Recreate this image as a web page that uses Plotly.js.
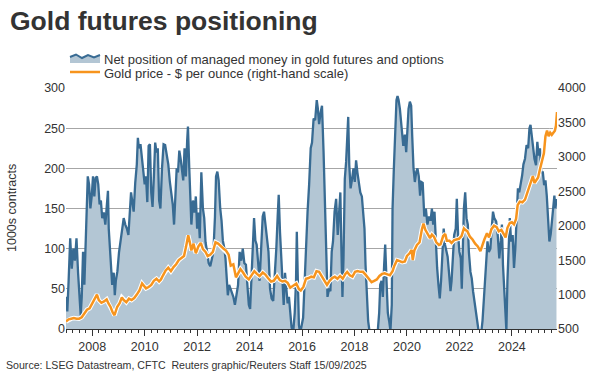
<!DOCTYPE html>
<html>
<head>
<meta charset="utf-8">
<script src="https://cdn.plot.ly/plotly-3.0.1.min.js"></script>
<style>html,body{margin:0;padding:0;background:#fff;}#chart{width:600px;height:376px;}</style>
</head>
<body>
<div id="chart"></div>
<script>
// Net position of managed money (thousands of contracts), decimal years
var netYears = [2007.00,2007.05,2007.10,2007.16,2007.22,2007.28,2007.34,2007.40,2007.46,2007.52,2007.56,2007.60,2007.65,2007.70,2007.75,2007.78,2007.83,2007.88,2007.93,2007.98,
2008.03,2008.08,2008.13,2008.18,2008.23,2008.28,2008.33,2008.38,2008.44,2008.50,2008.55,2008.60,2008.63,2008.68,2008.72,2008.76,2008.82,2008.86,2008.90,2008.96,
2009.02,2009.08,2009.15,2009.20,2009.26,2009.32,2009.38,2009.44,2009.48,2009.53,2009.58,2009.64,2009.70,2009.74,2009.78,2009.84,2009.90,2009.95,
2010.00,2010.05,2010.10,2010.15,2010.20,2010.25,2010.30,2010.35,2010.40,2010.45,2010.50,2010.55,2010.60,2010.66,2010.72,2010.78,2010.84,2010.90,2010.96,
2011.02,2011.07,2011.12,2011.17,2011.22,2011.27,2011.32,2011.37,2011.42,2011.47,2011.52,2011.57,2011.62,2011.65,2011.70,2011.74,2011.78,2011.84,2011.90,2011.95,
2012.00,2012.05,2012.10,2012.16,2012.22,2012.27,2012.32,2012.38,2012.44,2012.50,2012.56,2012.62,2012.68,2012.72,2012.77,2012.82,2012.88,2012.93,2012.98,
2013.04,2013.08,2013.12,2013.17,2013.22,2013.27,2013.32,2013.38,2013.44,2013.50,2013.56,2013.62,2013.68,2013.74,2013.80,2013.86,2013.92,2013.97,
2014.02,2014.07,2014.12,2014.17,2014.22,2014.27,2014.32,2014.38,2014.44,2014.50,2014.55,2014.60,2014.66,2014.72,2014.78,2014.84,2014.90,2014.96,
2015.02,2015.07,2015.11,2015.16,2015.21,2015.26,2015.30,2015.35,2015.40,2015.45,2015.50,2015.55,2015.60,2015.66,2015.72,2015.77,2015.80,2015.84,2015.88,2015.93,2015.98,
2016.04,2016.10,2016.16,2016.21,2016.27,2016.33,2016.38,2016.44,2016.50,2016.56,2016.60,2016.65,2016.71,2016.76,2016.82,2016.87,2016.92,2016.97,
2017.03,2017.08,2017.13,2017.18,2017.24,2017.30,2017.36,2017.42,2017.46,2017.50,2017.54,2017.58,2017.63,2017.68,2017.73,2017.76,2017.80,2017.85,2017.90,2017.96,
2018.01,2018.06,2018.11,2018.16,2018.22,2018.28,2018.33,2018.38,2018.42,2018.47,2018.52,2018.58,2018.64,2018.70,2018.76,2018.82,2018.88,2018.94,2018.98,
2019.03,2019.08,2019.13,2019.17,2019.22,2019.27,2019.32,2019.37,2019.42,2019.45,2019.50,2019.55,2019.60,2019.64,2019.68,2019.73,2019.78,2019.82,2019.86,2019.92,2019.97,
2020.02,2020.06,2020.11,2020.16,2020.20,2020.25,2020.30,2020.35,2020.40,2020.45,2020.50,2020.55,2020.60,2020.66,2020.72,2020.78,2020.84,2020.90,2020.95,
2021.00,2021.05,2021.10,2021.15,2021.20,2021.25,2021.30,2021.35,2021.40,2021.45,2021.50,2021.55,2021.60,2021.66,2021.70,2021.75,2021.80,2021.86,2021.90,2021.95,
2022.00,2022.05,2022.09,2022.13,2022.17,2022.22,2022.27,2022.32,2022.36,2022.42,2022.47,2022.52,2022.57,2022.62,2022.67,2022.72,2022.78,2022.84,2022.88,2022.92,2022.97,
2023.02,2023.07,2023.12,2023.18,2023.23,2023.28,2023.33,2023.40,2023.46,2023.52,2023.58,2023.62,2023.66,2023.70,2023.75,2023.79,2023.83,2023.87,2023.92,2023.97,
2024.03,2024.08,2024.13,2024.18,2024.23,2024.28,2024.33,2024.39,2024.44,2024.50,2024.56,2024.62,2024.67,2024.71,2024.76,2024.80,2024.86,2024.92,2024.97,
2025.02,2025.07,2025.12,2025.18,2025.23,2025.28,2025.33,2025.38,2025.43,2025.48,2025.52,2025.57,2025.62,2025.66,2025.70];
var netValues = [40,22,60,113,75,100,85,113,70,30,17,40,96,55,110,150,190,180,150,165,
190,165,188,190,180,155,160,138,145,130,150,172,125,100,76,55,70,42,60,72,
95,108,125,138,130,125,117,150,170,158,146,182,205,238,225,230,210,200,
180,190,158,228,230,170,152,190,232,220,225,160,150,200,230,229,215,205,183,
170,155,130,175,200,195,222,212,200,185,225,190,235,252,200,158,130,160,145,165,
125,145,113,195,150,138,108,96,82,78,88,96,140,190,196,185,150,135,110,
100,88,60,42,55,50,46,40,30,45,55,96,85,100,82,80,46,30,
25,60,100,138,110,105,85,60,100,140,146,130,110,96,50,38,35,65,
101,140,167,120,90,45,30,70,50,32,40,14,2,-5,20,60,121,60,5,-5,2,
14,60,120,146,180,225,232,262,260,285,275,255,270,278,220,146,113,40,
50,47,96,109,146,162,117,150,170,100,40,88,187,208,245,264,204,175,185,200,
183,210,195,183,170,165,138,125,80,40,10,-5,-15,-20,-15,-10,-5,20,55,
60,40,80,105,60,20,10,-2,30,150,200,240,285,290,285,274,255,240,228,242,220,
250,274,283,278,240,200,183,195,200,190,166,183,182,140,150,130,140,135,150,
130,146,100,76,55,38,60,88,125,105,96,90,71,47,60,96,117,125,162,117,
96,88,50,100,150,170,138,130,96,71,63,47,34,25,14,0,-5,-2,10,34,63,
96,109,96,100,125,146,138,134,117,88,110,130,80,47,20,-2,60,109,138,109,
117,76,100,138,175,170,179,191,205,212,229,225,250,254,240,229,212,204,233,
216,225,195,195,179,185,166,130,109,118,130,146,166,150,162];

// Gold price, $ per ounce, decimal years
var goldYears = [2007.00,2007.10,2007.20,2007.30,2007.40,2007.50,2007.60,2007.70,2007.80,2007.90,
2008.00,2008.10,2008.18,2008.25,2008.35,2008.45,2008.55,2008.62,2008.70,2008.78,2008.85,2008.95,
2009.05,2009.13,2009.20,2009.30,2009.40,2009.50,2009.60,2009.70,2009.80,2009.90,2009.97,
2010.05,2010.15,2010.25,2010.35,2010.45,2010.55,2010.62,2010.70,2010.80,2010.90,
2011.00,2011.10,2011.20,2011.30,2011.40,2011.50,2011.58,2011.66,2011.72,2011.78,2011.86,2011.95,
2012.05,2012.14,2012.22,2012.32,2012.40,2012.50,2012.60,2012.70,2012.80,2012.90,
2013.00,2013.10,2013.20,2013.28,2013.38,2013.48,2013.55,2013.65,2013.75,2013.85,2013.97,
2014.08,2014.18,2014.28,2014.38,2014.50,2014.60,2014.70,2014.82,2014.92,
2015.05,2015.15,2015.25,2015.35,2015.45,2015.55,2015.65,2015.78,2015.88,2015.95,
2016.05,2016.15,2016.25,2016.35,2016.45,2016.55,2016.65,2016.75,2016.85,2016.95,
2017.05,2017.15,2017.25,2017.35,2017.45,2017.55,2017.65,2017.72,2017.82,2017.92,
2018.02,2018.12,2018.22,2018.32,2018.42,2018.50,2018.58,2018.65,2018.75,2018.85,2018.95,
2019.05,2019.15,2019.25,2019.35,2019.45,2019.52,2019.62,2019.72,2019.82,2019.92,
2020.00,2020.10,2020.18,2020.22,2020.28,2020.38,2020.48,2020.57,2020.63,2020.70,2020.80,2020.88,2020.95,
2021.03,2021.12,2021.22,2021.28,2021.38,2021.46,2021.52,2021.62,2021.70,2021.80,2021.90,2021.98,
2022.08,2022.17,2022.22,2022.30,2022.40,2022.50,2022.60,2022.70,2022.80,2022.87,2022.95,
2023.05,2023.13,2023.22,2023.32,2023.42,2023.50,2023.60,2023.70,2023.76,2023.83,2023.92,
2024.00,2024.08,2024.16,2024.22,2024.30,2024.40,2024.50,2024.58,2024.66,2024.74,2024.80,2024.86,2024.92,
2025.00,2025.07,2025.14,2025.22,2025.28,2025.34,2025.40,2025.46,2025.52,2025.58,2025.64,2025.68,2025.72];
var goldValues = [610,640,650,660,650,650,670,720,780,800,
870,950,1000,920,880,900,930,870,820,740,700,820,
880,960,920,890,940,920,950,1000,1060,1160,1120,
1090,1110,1140,1200,1230,1190,1220,1280,1350,1390,
1340,1400,1440,1500,1530,1560,1700,1860,1760,1640,1740,1600,
1700,1750,1660,1620,1560,1580,1620,1760,1740,1700,
1670,1640,1580,1420,1440,1250,1300,1370,1320,1260,1220,
1280,1340,1300,1270,1320,1290,1240,1190,1200,
1270,1210,1190,1200,1170,1100,1130,1160,1080,1060,
1110,1230,1240,1260,1250,1340,1330,1270,1220,1140,
1200,1240,1260,1230,1270,1230,1300,1330,1280,1260,
1330,1340,1330,1330,1290,1250,1210,1180,1200,1220,1270,
1300,1310,1290,1280,1340,1420,1500,1490,1470,1480,
1560,1600,1650,1500,1640,1720,1760,1950,2030,1940,1880,1820,1870,
1840,1760,1720,1730,1850,1880,1780,1780,1750,1790,1800,1810,
1850,1960,1940,1920,1840,1800,1740,1700,1630,1720,1800,
1890,1830,1950,2000,1980,1920,1940,1880,1830,1970,2040,
2050,2020,2100,2300,2350,2340,2380,2470,2540,2660,2720,2620,2650,
2700,2820,2920,3050,3300,3380,3300,3350,3320,3350,3380,3450,3650];

var yearTicks = [2008,2010,2012,2014,2016,2018,2020,2022,2024];
var yearLabels = ['2008','2010','2012','2014','2016','2018','2020','2022','2024'];

var L = 66, R = 557, T = 88, B = 329;
function px(x){ return (x - L) / (R - L); }
function py(y){ return (B - y) / (B - T); }

var font = 'Liberation Sans, Arial, sans-serif';
var txt = '#333333';

var traces = [
  {x: netYears, y: netValues, type: 'scatter', mode: 'lines', fill: 'tozeroy',
   fillcolor: '#b3c6d4', line: {color: 'rgba(0,0,0,0)', width: 0}, showlegend: false, hoverinfo: 'skip'},
  {x: netYears, y: netValues, type: 'scatter', mode: 'lines',
   line: {color: '#386b93', width: 2.3}, showlegend: false},
  {x: goldYears, y: goldValues, yaxis: 'y2', type: 'scatter', mode: 'lines',
   line: {color: '#ffffff', width: 4.5}, showlegend: false, hoverinfo: 'skip'},
  {x: goldYears, y: goldValues, yaxis: 'y2', type: 'scatter', mode: 'lines',
   line: {color: '#f7941d', width: 2.5}, showlegend: false}
];

var iconPath = 'M ' + px(70) + ' ' + py(57) + ' L ' + px(76) + ' ' + py(54.5) + ' L ' + px(82) + ' ' + py(58) +
  ' L ' + px(88) + ' ' + py(55) + ' L ' + px(94) + ' ' + py(57.5) + ' L ' + px(100) + ' ' + py(55);
var iconFill = iconPath + ' L ' + px(100) + ' ' + py(63) + ' L ' + px(70) + ' ' + py(63) + ' Z';

var layout = {
  width: 600, height: 376,
  margin: {l: L, r: 600 - R, t: T, b: 376 - B, pad: 0},
  paper_bgcolor: '#ffffff', plot_bgcolor: '#ffffff',
  font: {family: font, size: 12, color: txt},
  showlegend: false,
  xaxis: {
    type: 'linear', range: [2007.0, 2025.72],
    tickmode: 'array', tickvals: yearTicks, ticktext: yearLabels,
    ticks: 'outside', ticklen: 6, tickcolor: '#333', tickwidth: 1,
    minor: {dtick: 0.25, tick0: 2007, ticks: 'outside', ticklen: 3, tickcolor: '#333', showgrid: false},
    showline: true, linecolor: '#333', linewidth: 1,
    showgrid: false, zeroline: false,
    tickfont: {size: 12.5, color: txt, family: font}
  },
  yaxis: {
    range: [0, 300], dtick: 50, tick0: 0,
    showgrid: true, gridcolor: '#a6a6a6', gridwidth: 1,
    zeroline: false, showline: false, ticks: '',
    tickfont: {size: 12.5, color: txt, family: font}
  },
  yaxis2: {
    overlaying: 'y', side: 'right', range: [500, 4000], dtick: 500, tick0: 500,
    showgrid: false, zeroline: false, showline: false, ticks: '',
    tickfont: {size: 12.5, color: txt, family: font}
  },
  shapes: [
    {type: 'path', xref: 'paper', yref: 'paper', path: iconFill, fillcolor: '#b3c6d4', line: {width: 0}},
    {type: 'path', xref: 'paper', yref: 'paper', path: iconPath, line: {color: '#386b93', width: 2}},
    {type: 'line', xref: 'paper', yref: 'paper', x0: px(70), x1: px(100), y0: py(72), y1: py(72),
     line: {color: '#f7941d', width: 2.5}}
  ],
  annotations: [
    {text: '<b>Gold futures positioning</b>', xref: 'paper', yref: 'paper', x: px(8), y: py(21),
     xanchor: 'left', yanchor: 'middle', showarrow: false,
     font: {family: font, size: 26.5, color: '#333333'}},
    {text: 'Net position of managed money in gold futures and options', xref: 'paper', yref: 'paper',
     x: px(102), y: py(59), xanchor: 'left', yanchor: 'middle', showarrow: false,
     font: {family: font, size: 13, color: txt}},
    {text: 'Gold price - $ per ounce (right-hand scale)', xref: 'paper', yref: 'paper',
     x: px(102), y: py(73), xanchor: 'left', yanchor: 'middle', showarrow: false,
     font: {family: font, size: 13, color: txt}},
    {text: '1000s contracts', xref: 'paper', yref: 'paper', x: px(12), y: py(208),
     xanchor: 'center', yanchor: 'middle', textangle: -90, showarrow: false,
     font: {family: font, size: 12.5, color: txt}},
    {text: 'Source: LSEG Datastream, CFTC&nbsp; Reuters graphic/Reuters Staff 15/09/2025', xref: 'paper', yref: 'paper',
     x: px(4), y: py(365), xanchor: 'left', yanchor: 'middle', showarrow: false,
     font: {family: font, size: 10.6, color: txt}}
  ]
};

Plotly.newPlot('chart', traces, layout, {staticPlot: true, displayModeBar: false});
</script>
</body>
</html>
